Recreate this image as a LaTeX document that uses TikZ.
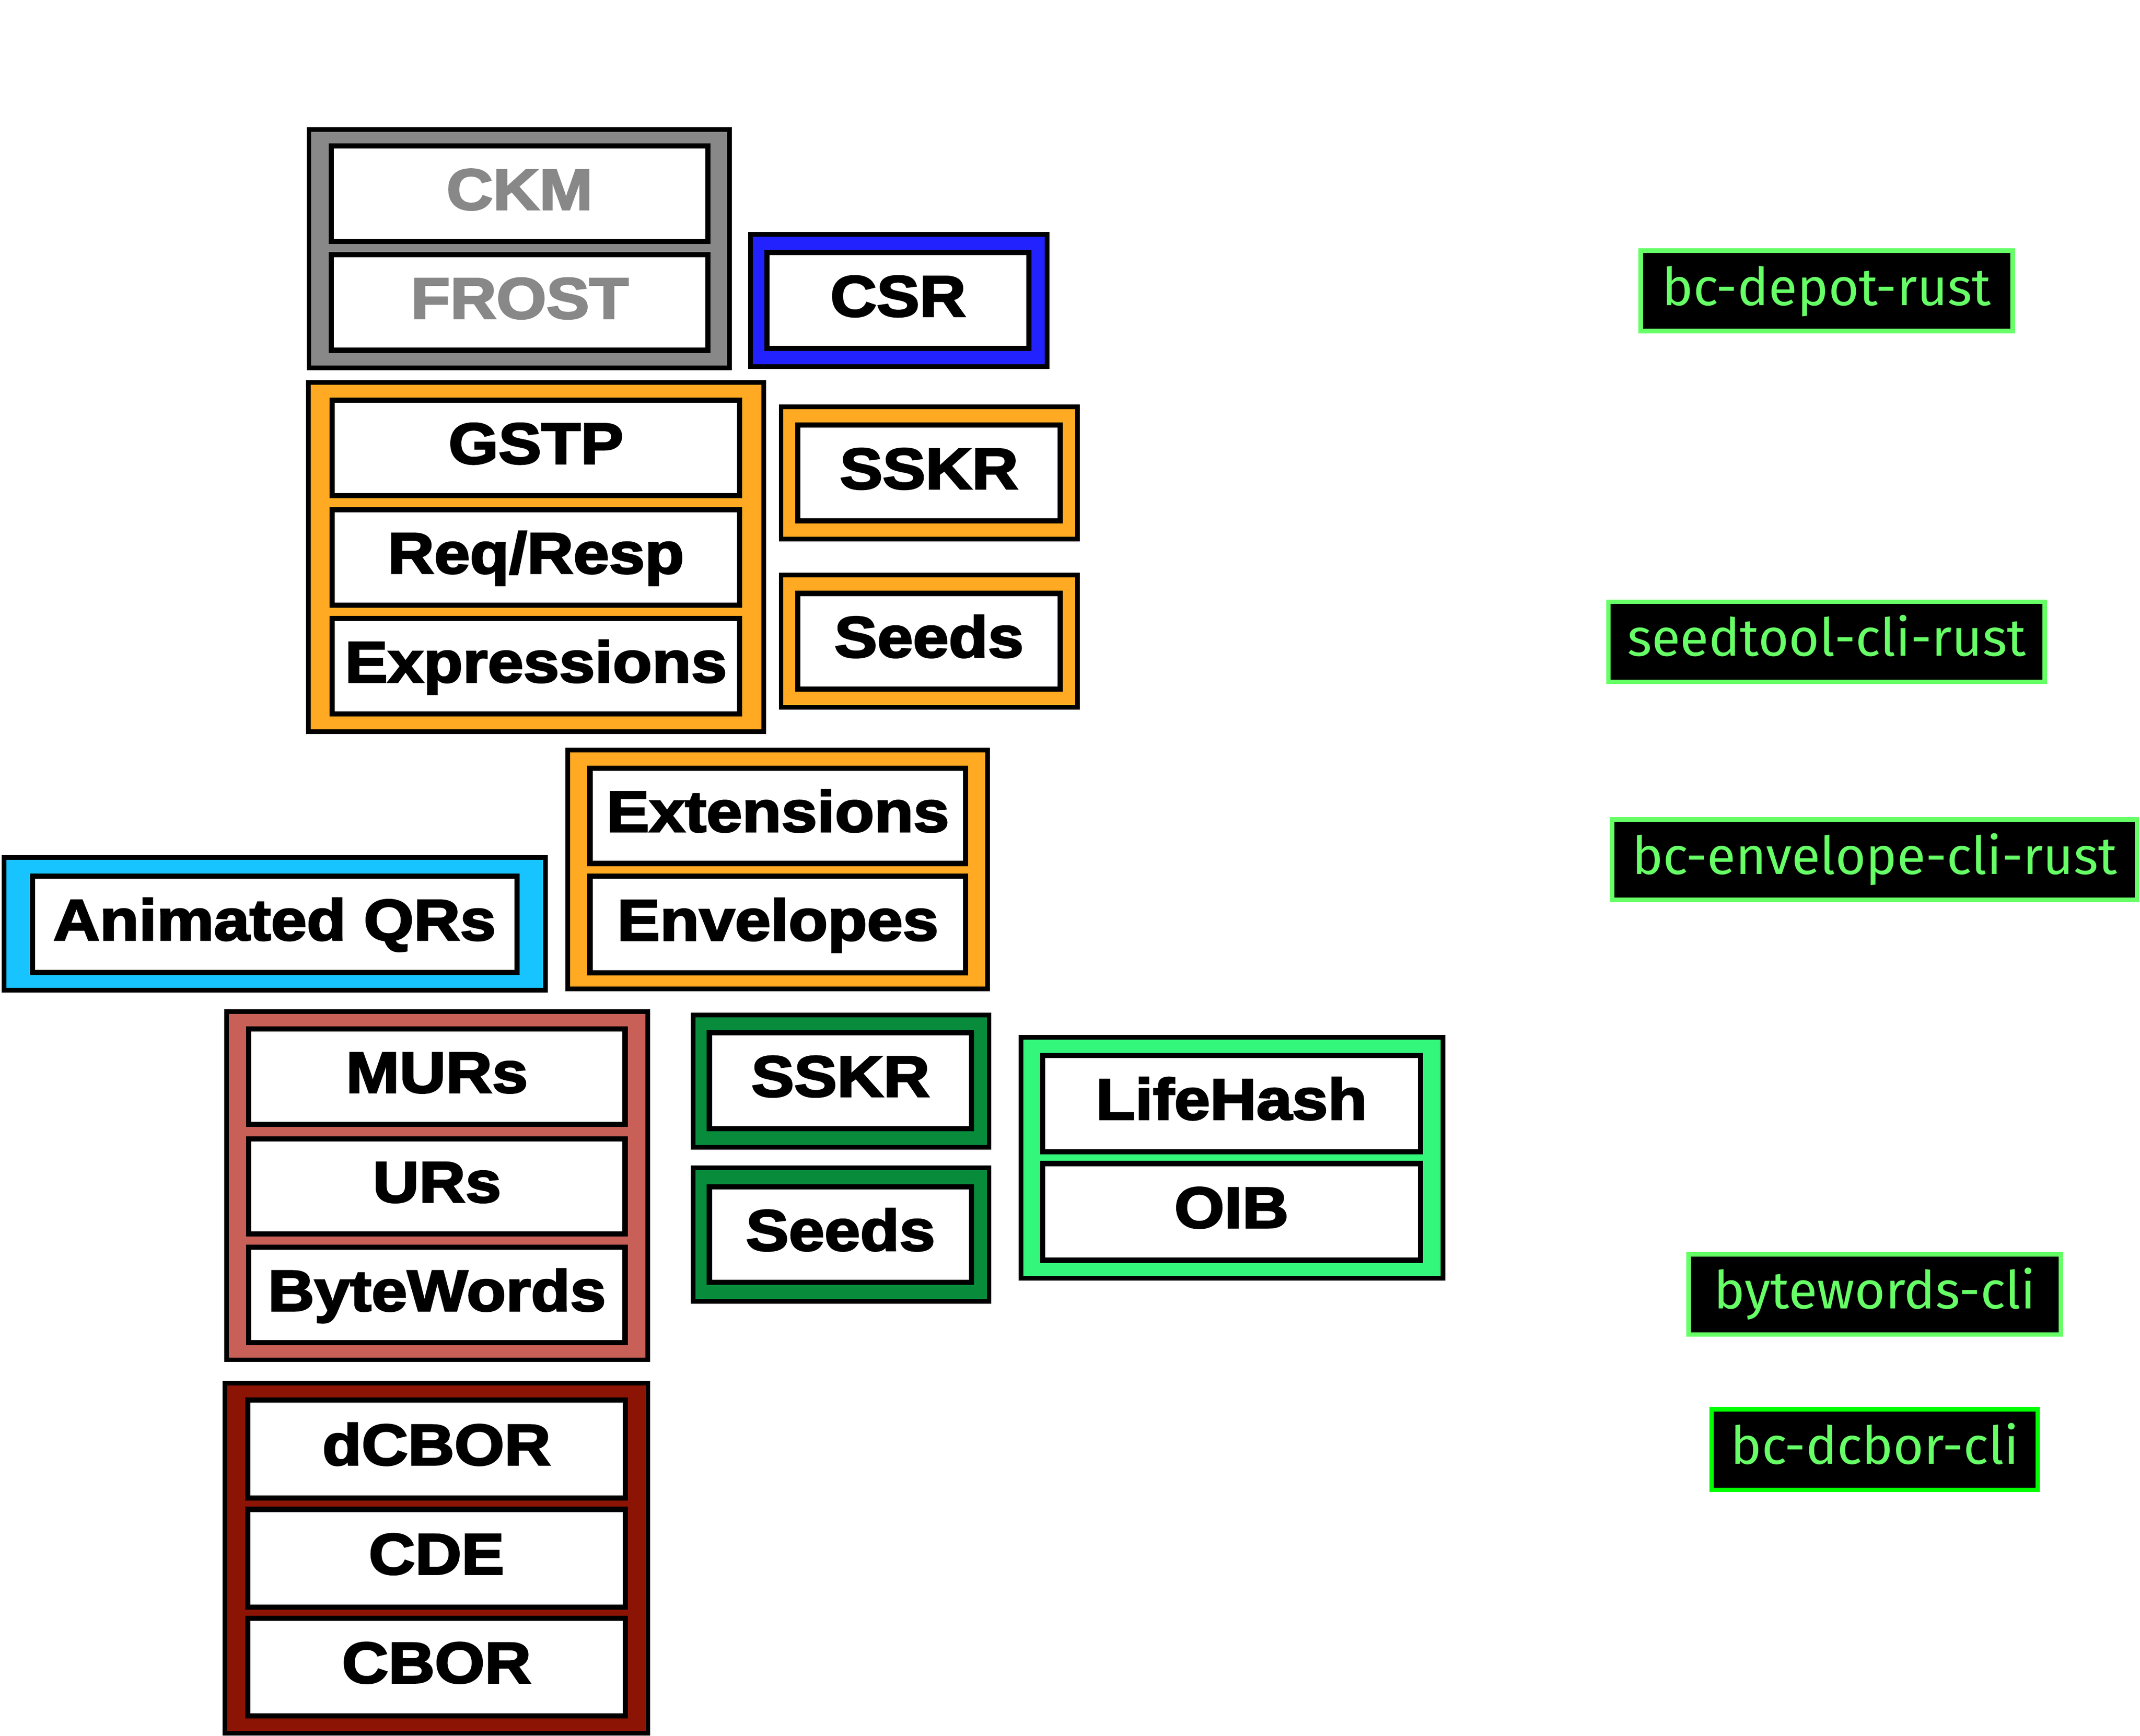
\documentclass[tikz,border=0pt]{standalone}
\usepackage{fontspec}
\newfontfamily\boxfont{Liberation Sans}[UprightFont={* Bold}, UprightFeatures={FakeStretch=1.11, FakeBold=3}]
\newfontfamily\labfont{Fira Sans}
\definecolor{cgray}{HTML}{888888}
\definecolor{cblue}{HTML}{2222FF}
\definecolor{corange}{HTML}{FFAA22}
\definecolor{ccyan}{HTML}{18C4FF}
\definecolor{cired}{HTML}{C86058}
\definecolor{cdgreen}{HTML}{088C3C}
\definecolor{clgreen}{HTML}{33F77A}
\definecolor{cdred}{HTML}{8C1404}
\definecolor{labgreen}{HTML}{66FF66}
\definecolor{puregreen}{HTML}{00FF00}
\tikzset{
  outerbox/.style={draw=black, line width=1.7pt, inner sep=0pt, outer sep=0pt},
  inbox/.style={draw=black, fill=white, line width=1.9pt, inner sep=0pt, outer sep=0pt,
    font=\boxfont\fontsize{21.2}{24}\selectfont, text height=15.2pt, text depth=3.6pt},
  labbox/.style={draw=labgreen, fill=black, line width=1.65pt, inner sep=0pt, outer sep=0pt,
    text=labgreen, font=\labfont\fontsize{19.2}{24}\selectfont, text height=14.5pt, text depth=4pt}
}
% #1 style, #2 name, #3 x1, #4 y1, #5 x2, #6 y2, #7 text, #8 line width in px
\newcommand\bx[8]{\node[#1, minimum width={(#5-#3-#8)*0.5pt}, minimum height={(#6-#4-#8)*0.5pt}] (#2) at ({(#3+#5)/2},{(#4+#6)/2}) {#7};}
\begin{document}
\begin{tikzpicture}[x=0.5pt, y=-0.5pt]
\fill[white] (0,0) rectangle (1568,1271.76);
\useasboundingbox (0,0) rectangle (1568,1271.76);
% outer groups
\bx{outerbox, fill=cgray}{gGray}{224.7}{93.2}{536.1}{271.3}{}{3.4}
\bx{outerbox, fill=cblue}{gBlue}{548.1}{170.0}{768.8}{270.4}{}{3.4}
\bx{outerbox, fill=corange}{gOrA}{224.3}{278.6}{561.3}{537.8}{}{3.4}
\bx{outerbox, fill=corange}{gOrB}{570.6}{296.4}{791.3}{396.8}{}{3.4}
\bx{outerbox, fill=corange}{gOrC}{570.6}{419.5}{791.3}{520.0}{}{3.4}
\bx{outerbox, fill=corange}{gOrD}{414.4}{547.8}{725.3}{726.4}{}{3.4}
\bx{outerbox, fill=ccyan}{gCyan}{1.4}{626.7}{401.4}{727.1}{}{3.4}
\bx{outerbox, fill=cired}{gIRed}{164.4}{739.6}{476.3}{998.0}{}{3.4}
\bx{outerbox, fill=cdgreen}{gGrA}{506.3}{742.0}{726.4}{842.4}{}{3.4}
\bx{outerbox, fill=cdgreen}{gGrB}{506.3}{854.0}{726.4}{955.2}{}{3.4}
\bx{outerbox, fill=clgreen}{gLG}{746.4}{758.2}{1059.0}{938.2}{}{3.4}
\bx{outerbox, fill=cdred}{gDRed}{163.2}{1011.7}{476.5}{1271.5}{}{3.4}
% inner boxes
\bx{inbox, text=cgray}{ckm}{240.9}{105.0}{520.6}{178.9}{CKM}{3.8}
\bx{inbox, text=cgray}{frost}{240.9}{184.8}{520.6}{258.6}{FROST}{3.8}
\bx{inbox}{csr}{560.2}{183.2}{755.9}{257.1}{CSR}{3.8}
\bx{inbox}{gstp}{241.5}{291.2}{543.9}{365.0}{GSTP}{3.8}
\bx{inbox}{reqresp}{241.5}{371.5}{543.9}{445.4}{Req/Resp}{3.8}
\bx{inbox}{expr}{241.5}{451.3}{543.9}{525.1}{Expressions}{3.8}
\bx{inbox}{sskrA}{582.7}{309.5}{778.7}{383.6}{SSKR}{3.8}
\bx{inbox}{seedsA}{582.7}{432.9}{778.7}{506.9}{Seeds}{3.8}
\bx{inbox}{ext}{430.4}{560.9}{709.4}{634.6}{Extensions}{3.8}
\bx{inbox}{env}{430.4}{640.0}{709.4}{714.6}{Envelopes}{3.8}
\bx{inbox}{aqr}{21.8}{640.0}{380.6}{714.4}{Animated QRs}{3.8}
\bx{inbox}{murs}{180.4}{752.0}{459.9}{825.8}{MURs}{3.8}
\bx{inbox}{urs}{180.4}{832.5}{459.9}{905.9}{URs}{3.8}
\bx{inbox}{bw}{180.4}{912.0}{459.9}{985.6}{ByteWords}{3.8}
\bx{inbox}{sskrB}{517.9}{754.8}{713.8}{828.8}{SSKR}{3.8}
\bx{inbox}{seedsB}{517.9}{867.7}{713.8}{941.5}{Seeds}{3.8}
\bx{inbox}{lifehash}{762.0}{771.3}{1042.6}{845.9}{LifeHash}{3.8}
\bx{inbox}{oib}{762.0}{850.6}{1042.6}{925.3}{OIB}{3.8}
\bx{inbox}{dcbor}{179.7}{1024.0}{460.0}{1099.4}{dCBOR}{3.8}
\bx{inbox}{cde}{179.7}{1104.0}{460.0}{1179.5}{CDE}{3.8}
\bx{inbox}{cbor}{179.7}{1183.8}{460.0}{1259.0}{CBOR}{3.8}
% labels
\bx{labbox}{depot}{1200.5}{182.0}{1476.3}{244.3}{bc-depot-rust}{3.3}
\bx{labbox}{seedtool}{1176.9}{439.3}{1499.8}{501.2}{seedtool-cli-rust}{3.3}
\bx{labbox}{envcli}{1179.5}{598.8}{1567.5}{661.0}{bc-envelope-cli-rust}{3.3}
\bx{labbox}{bwcli}{1235.6}{917.4}{1511.6}{979.5}{bytewords-cli}{3.3}
\bx{labbox, draw=puregreen}{dcborcli}{1252.4}{1030.8}{1494.7}{1093.3}{bc-dcbor-cli}{3.3}
\end{tikzpicture}
\end{document}
